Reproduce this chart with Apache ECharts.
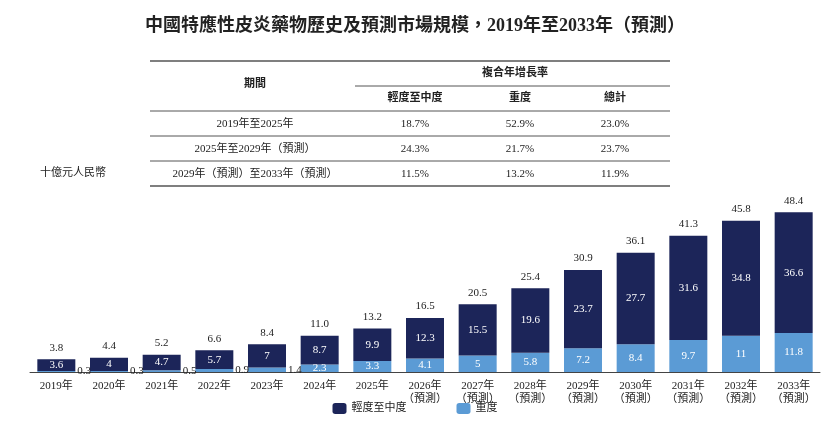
<!DOCTYPE html>
<html><head><meta charset="utf-8">
<script src="https://cdn.jsdelivr.net/npm/echarts@6/dist/echarts.min.js"></script>
<style>html,body{margin:0;background:#fff}#c{width:830px;height:425px}</style>
</head><body><div id="c"></div>
<script>
const years = ['2019年','2020年','2021年','2022年','2023年','2024年','2025年','2026年\n（預測）','2027年\n（預測）','2028年\n（預測）','2029年\n（預測）','2030年\n（預測）','2031年\n（預測）','2032年\n（預測）','2033年\n（預測）'];
const mild = [3.6,4.0,4.7,5.7,7.0,8.7,9.9,12.3,15.5,19.6,23.7,27.7,31.6,34.8,36.6];
const severe = [0.3,0.3,0.5,0.9,1.4,2.3,3.3,4.1,5.0,5.8,7.2,8.4,9.7,11.0,11.8];
const totals = [3.8,4.4,5.2,6.6,8.4,11.0,13.2,16.5,20.5,25.4,30.9,36.1,41.3,45.8,48.4];
const tableRows = [
  ['2019年至2025年','18.7%','52.9%','23.0%'],
  ['2025年至2029年（預測）','24.3%','21.7%','23.7%'],
  ['2029年（預測）至2033年（預測）','11.5%','13.2%','11.9%']
];
const tableHead = ['輕度至中度','重度','總計'];

const FONT = '"Liberation Serif","Noto Sans CJK TC",serif';
const DARK = '#1c2559', LIGHT = '#5b9bd5';
const chart = echarts.init(document.getElementById('c'));

const colX = [255, 415, 520, 615];
const g = [];
function line(x1, y, x2, w) {
  g.push({type:'line', shape:{x1:x1, y1:y, x2:x2, y2:y}, style:{stroke:'#555', lineWidth:w}});
}
function txt(x, y, s, bold) {
  g.push({type:'text', x:x, y:y, style:{text:s, font:(bold?'bold ':'')+'11px '+FONT, fill:'#222', align:'center', verticalAlign:'middle'}});
}
line(150, 61, 670, 1.5);
line(355, 86, 670, 1);
line(150, 111, 670, 1);
line(150, 136, 670, 1);
line(150, 161, 670, 1);
line(150, 186, 670, 1.5);
txt(colX[0], 84, '期間', true);
txt(515, 73, '複合年增長率', true);
tableHead.forEach((h, i) => txt(colX[i + 1], 98, h, true));
tableRows.forEach((r, j) => r.forEach((s, i) => txt(colX[i], 124 + j * 25, s, false)));
g.push({type:'text', x:40, y:173, style:{text:'十億元人民幣', font:'11px '+FONT, fill:'#222', verticalAlign:'middle'}});

chart.setOption({
  title: {text:'中國特應性皮炎藥物歷史及預測市場規模，2019年至2033年（預測）', left:'center', top:12,
    textStyle:{fontFamily:FONT, fontSize:18, fontWeight:'bold', color:'#222'}},
  graphic: g,
  legend: {bottom:6, left:'center', itemGap:50, itemWidth:14, itemHeight:11, data:['輕度至中度','重度'],
    textStyle:{fontFamily:FONT, fontSize:11, color:'#222'}},
  grid: {left:30, right:10, top:207, bottom:53},
  xAxis: {type:'category', data:years, axisTick:{show:false},
    axisLine:{lineStyle:{color:'#444'}},
    axisLabel:{fontFamily:FONT, fontSize:11, color:'#222', lineHeight:13, interval:0}},
  yAxis: {type:'value', min:0, max:50, show:false},
  series: [
    {name:'重度', type:'bar', stack:'a', barWidth:38, itemStyle:{color:LIGHT},
      data: severe.map(v => v < 2 ? {value:v, label:{position:'right', color:'#222', distance:2}} : v),
      label:{show:true, position:'inside', color:'#fff', fontFamily:FONT, fontSize:11}},
    {name:'輕度至中度', type:'bar', stack:'a', itemStyle:{color:DARK},
      label:{show:true, position:'inside', color:'#fff', fontFamily:FONT, fontSize:11}},
    {name:'total', type:'bar', stack:'a', data:totals.map(() => 0), itemStyle:{color:'transparent'},
      label:{show:true, position:'top', distance:6, color:'#222', fontFamily:FONT, fontSize:11,
        formatter: p => totals[p.dataIndex].toFixed(1)}}
  ]
});
chart.setOption({series:[{}, {data:mild}]});
</script></body></html>
